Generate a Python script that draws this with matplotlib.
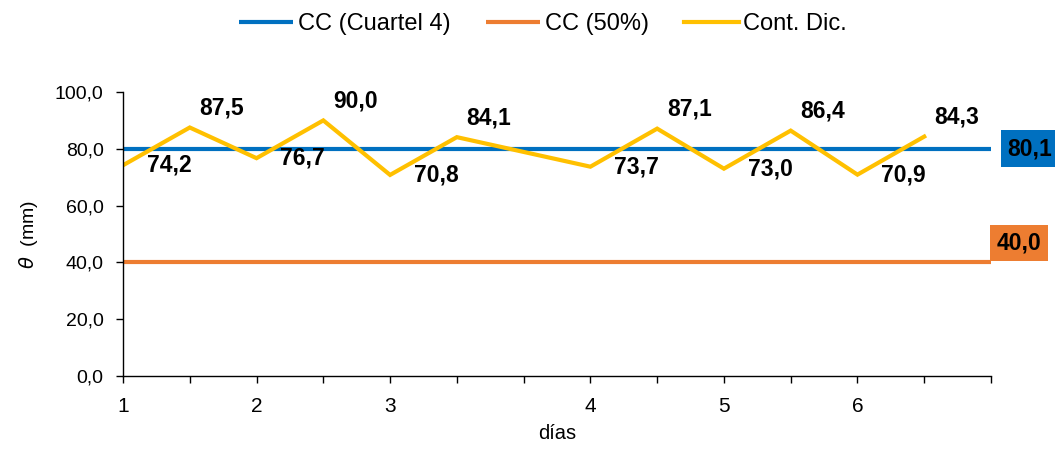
import numpy as np
import matplotlib.pyplot as plt
from matplotlib.ticker import FuncFormatter

plt.rcParams['font.family'] = ['Liberation Sans', 'DejaVu Sans']

# data
dias = ["1", "", "2", "", "3", "", "", "4", "", "5", "", "6", "", ""]
cont_dic = [74.2, 87.5, 76.7, 90.0, 70.8, 84.1, None, 73.7, 87.1, 73.0, 86.4, 70.9, 84.3, None]
cc_cuartel4 = 80.1
cc_50 = 40.0

azul = "#0070C0"
naranja = "#ED7D31"
amarillo = "#FFC000"

x = np.arange(len(dias))
y = np.array([np.nan if v is None else v for v in cont_dic])
ok = ~np.isnan(y)

fig = plt.figure(figsize=(10.55, 4.5), dpi=100)
ax = fig.add_axes([123 / 1055, 1 - 376 / 450, (991 - 123) / 1055, (376 - 92) / 450])

ax.plot(x, [cc_cuartel4] * len(x), color=azul, lw=3, label="CC (Cuartel 4)", solid_capstyle="butt")
ax.plot(x, [cc_50] * len(x), color=naranja, lw=3, label="CC (50%)", solid_capstyle="butt")
ax.plot(x[ok], y[ok], color=amarillo, lw=3, label="Cont. Dic.", solid_joinstyle="miter")

# etiquetas de la serie
for xi, yi in zip(x[ok], y[ok]):
    txt = f"{yi:.1f}".replace(".", ",")
    if yi > cc_cuartel4:
        off = (7, 14)
    else:
        off = (17, 0)
    ax.annotate(txt, (xi, yi), xytext=off, textcoords="offset points",
                ha="left", va="center", fontsize=16.5, fontweight="bold")

# etiquetas de las lineas constantes
ax.annotate(f"{cc_cuartel4:.1f}".replace(".", ","), (x[-1], cc_cuartel4), xytext=(12, 0),
            textcoords="offset points", ha="left", va="center", fontsize=16.5, fontweight="bold",
            bbox=dict(boxstyle="square,pad=0.3", fc=azul, ec="none"), annotation_clip=False)
ax.annotate(f"{cc_50:.1f}".replace(".", ","), (x[-1], cc_50), xytext=(20, 14),
            textcoords="offset points", ha="center", va="center", fontsize=16.5, fontweight="bold",
            bbox=dict(boxstyle="square,pad=0.3", fc=naranja, ec="none"), annotation_clip=False)

ax.set_xlim(0, len(dias) - 1)
ax.set_ylim(0, 100)
ax.set_xticks(x)
ax.set_xticklabels(dias)
ax.set_yticks(np.arange(0, 101, 20))
ax.yaxis.set_major_formatter(FuncFormatter(lambda v, p: f"{v:.1f}".replace(".", ",")))
ax.tick_params(axis="both", direction="out", length=5, width=1, colors="black")
ax.tick_params(axis="y", labelsize=14, pad=9)
ax.tick_params(axis="x", labelsize=15, pad=10)

for s in ["top", "right"]:
    ax.spines[s].set_visible(False)
for s in ["left", "bottom"]:
    ax.spines[s].set_color("black")
    ax.spines[s].set_linewidth(1)

ax.set_xlabel("días", fontsize=14.5, labelpad=6)
ax.set_ylabel(r"$\theta$  (mm)", fontsize=14, labelpad=11)

fig.legend(loc="center", bbox_to_anchor=(543 / 1055, 1 - 24 / 450), ncol=3, frameon=False,
           fontsize=17, handlelength=2.3, handletextpad=0.2, columnspacing=1.5)

fig.savefig("out.png", dpi=100)
